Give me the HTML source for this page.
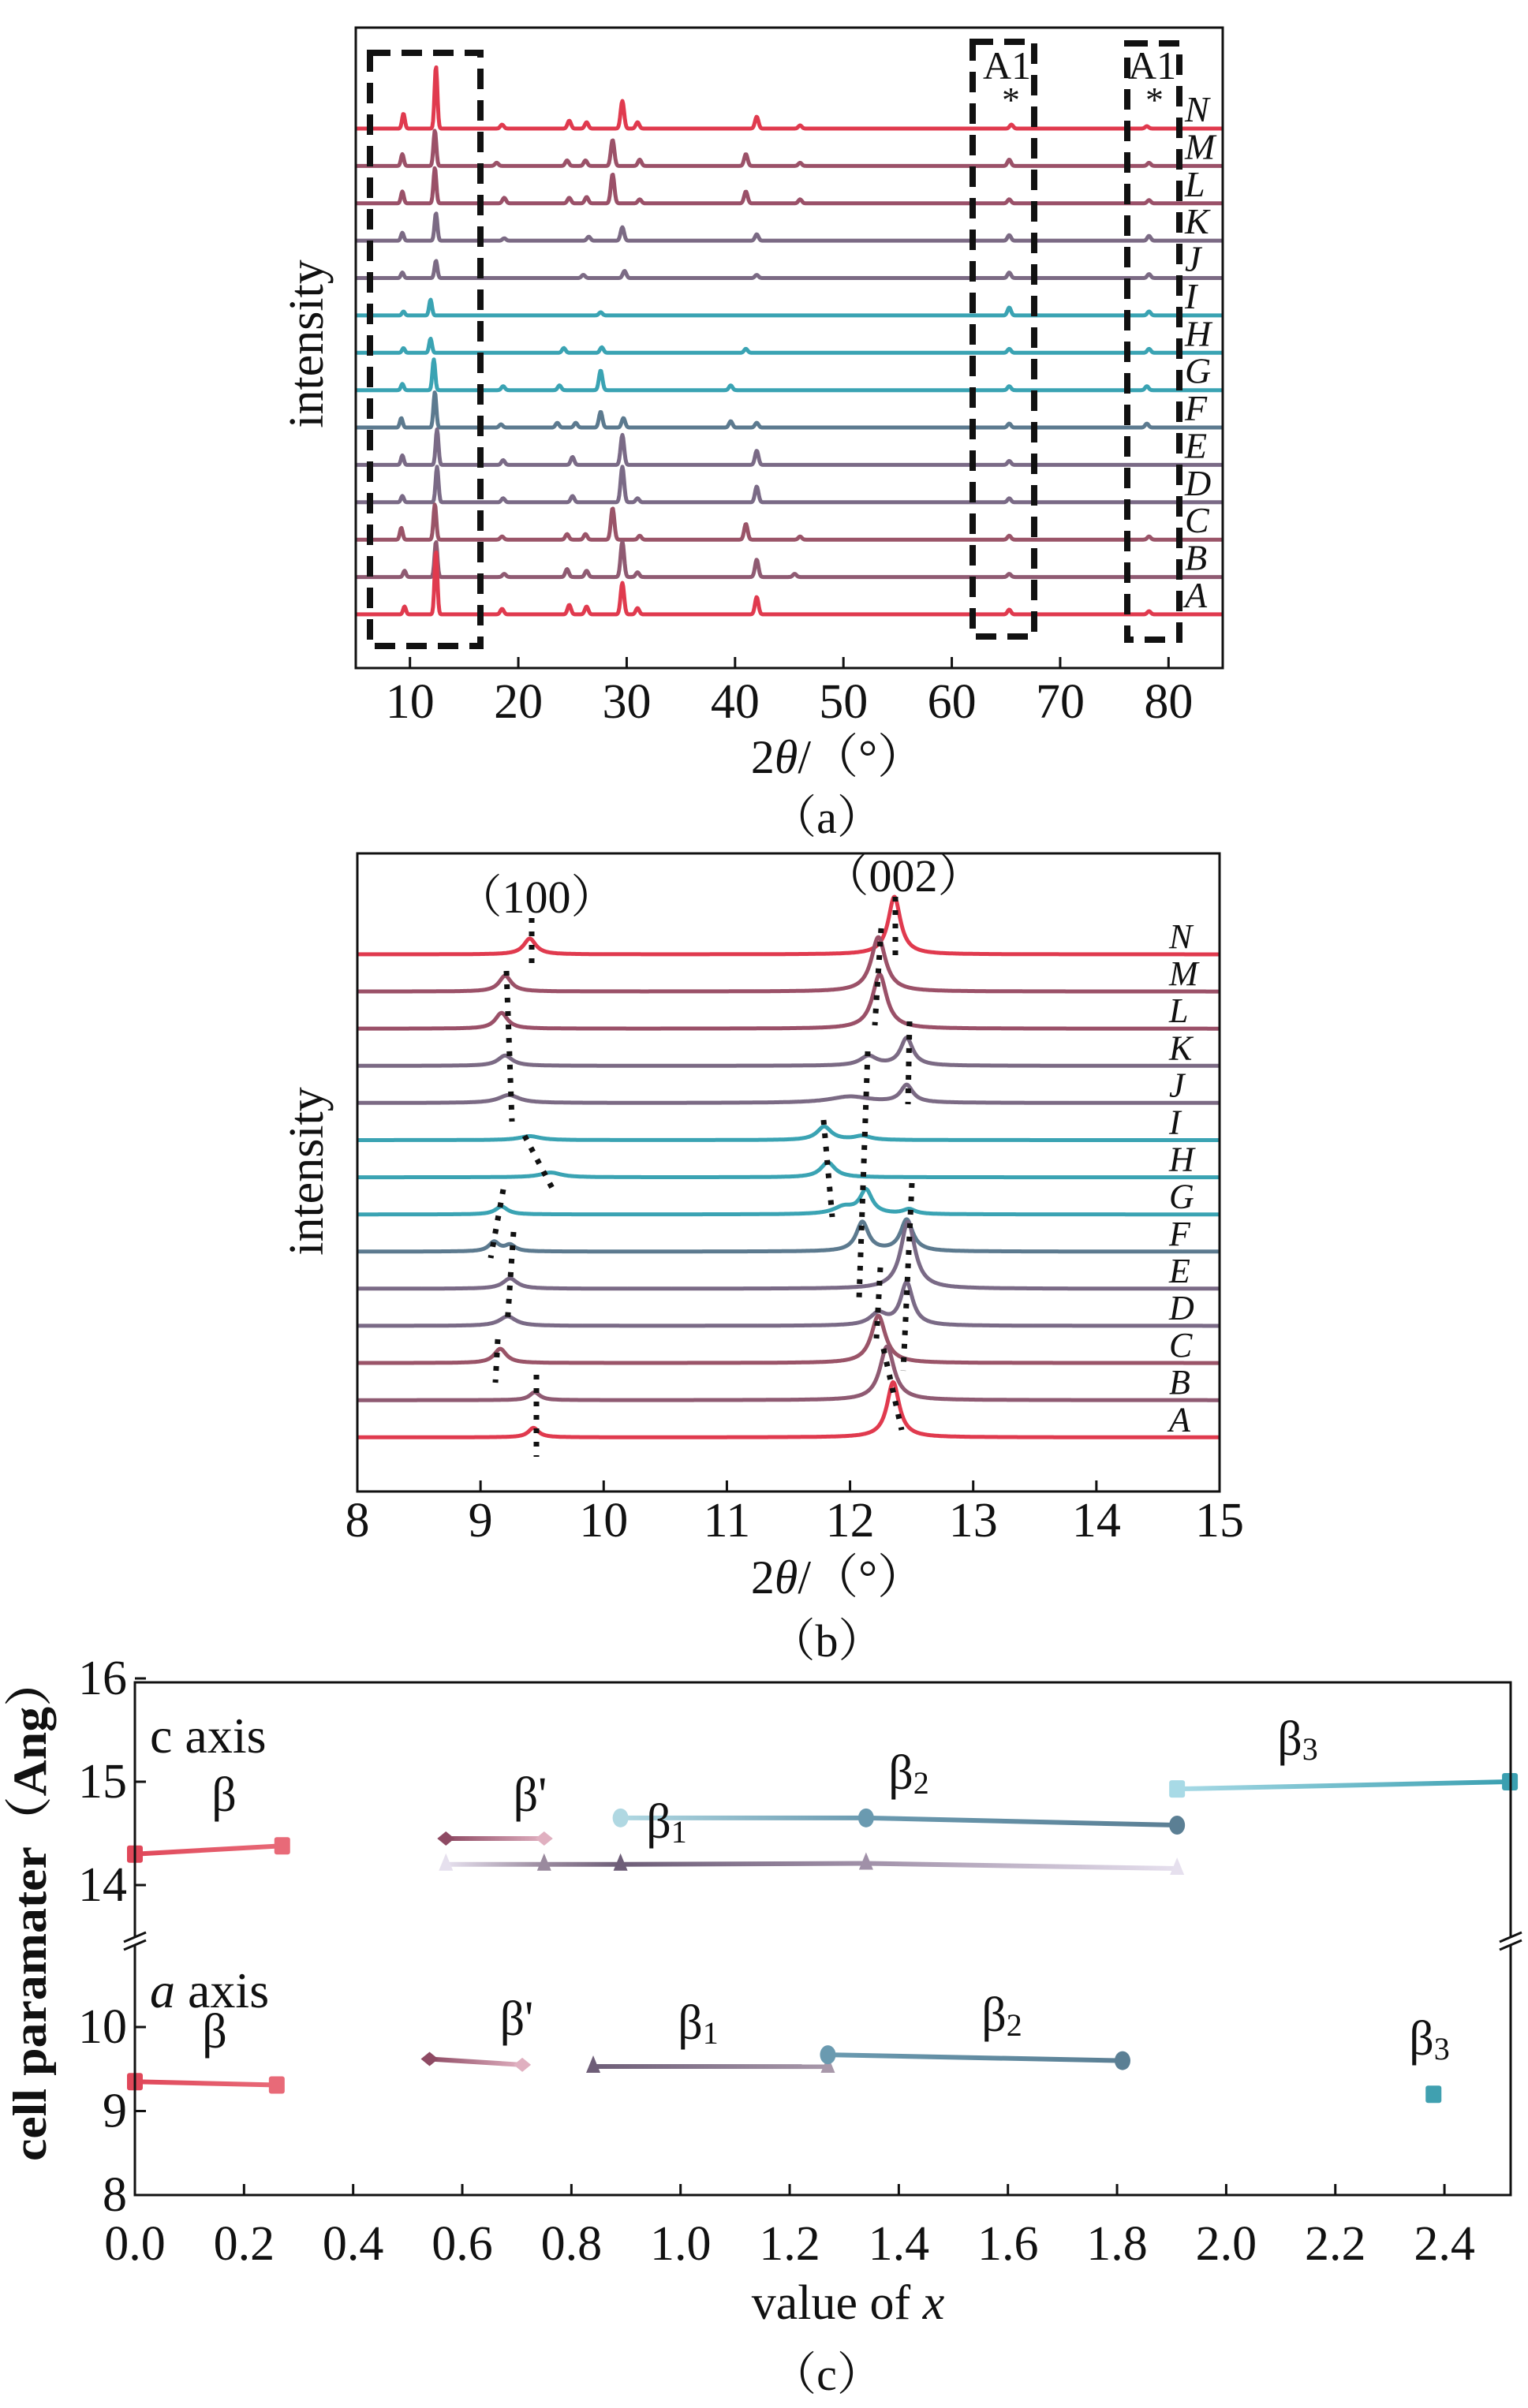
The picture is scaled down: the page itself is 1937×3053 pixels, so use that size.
<!DOCTYPE html>
<html><head><meta charset="utf-8"><title>XRD and cell parameters</title>
<style>
html,body{margin:0;padding:0;background:#fff;}
svg{display:block;font-family:"Liberation Serif","Noto Serif CJK SC",serif;}
</style></head>
<body>
<svg id="fig" width="1937" height="3053" viewBox="0 0 1937 3053" xmlns="http://www.w3.org/2000/svg">
<defs id="defs"></defs>
<g id="pa"></g>
<g id="pb"></g>
<g id="pc"></g>
</svg>
<script>
// ---------- Panel (a) data ----------
const aLabels = ["N","M","L","K","J","I","H","G","F","E","D","C","B","A"];
const aColors = ["#e03a4e","#9b5168","#9a5068","#7b6a84","#7b6a84","#3aa3b3","#3aa3b3","#3aa3b3","#5c7a8f","#7a6a86","#7a6a86","#9a5468","#8f5a72","#e03a4e"];
const aPeakPos = [
 [9.4,12.4,18.5,24.7,26.3,29.6,31,42,46,65.5,78],
 [9.3,12.3,18,24.5,26.2,28.7,31.2,41,46,65.3,78.2],
 [9.3,12.3,18.7,24.7,26.3,28.7,31.2,41,46,65.3,78.2],
 [9.3,12.4,18.7,26.5,29.6,42,65.3,78.2],
 [9.3,12.4,26,29.8,42,65.3,78.2],
 [9.4,11.9,27.6,65.3,78.2],
 [9.4,11.9,24.2,27.7,41,65.3,78.2],
 [9.3,12.2,18.6,23.8,27.6,39.6,65.3,78],
 [9.2,12.3,18.4,23.6,25.3,27.6,29.7,39.6,42,65.3,78],
 [9.3,12.5,18.6,25,29.6,42,65.3],
 [9.3,12.5,18.6,25,29.6,31,42,65.3],
 [9.2,12.3,18.5,24.5,26.2,28.7,31.2,41,46,65.3,78.2],
 [9.5,12.4,18.7,24.5,26.3,29.6,31,42,45.5,65.3],
 [9.5,12.4,18.5,24.7,26.3,29.6,31,42,65.3,78.2]
];
const aPeakH = [
 [19,79,5,10,8,35,8,15,4,5,3],
 [15,45,4,7,7,33,8,15,4,8,4],
 [15,45,7,7,8,37,5,15,5,5,4],
 [10,35,3,5,17,8,7,6],
 [7,22,4,9,4,7,5],
 [5,20,4,10,5],
 [6,18,6,7,5,5,5],
 [8,39,5,6,25,6,5,5],
 [12,45,4,6,6,20,12,8,6,5,5],
 [12,45,6,10,38,18,5],
 [8,45,5,8,45,5,20,5],
 [15,45,4,7,7,40,5,20,4,5,4],
 [8,45,4,10,8,45,6,22,4,4],
 [10,80,7,12,10,40,8,22,6,4]
];
const aTicks = [10,20,30,40,50,60,70,80];

// ---------- Panel (b) data ----------
const bPeakPos = [
 [9.4,12.36],[9.2,12.23],[9.17,12.24],[9.2,12.15,12.46],[9.23,12.0,12.46],
 [9.4,11.79,12.1],[9.57,11.82],[9.17,11.95,12.13,12.48],[9.11,9.24,12.1,12.46],
 [9.24,12.47],[9.22,12.23,12.46],[9.16,12.23],[9.44,12.3],[9.43,12.35]
];
const bPeakH = [
 [20,73],[20,69],[20,69],[13,12,35],[10,8,22],
 [5,17,5],[6,19],[10,9,30,6],[12,8,37,40],
 [13,85],[12,15,54],[18,60],[10,68],[12,70]
];
const bPeakW = [
 [0.06,0.06],[0.06,0.07],[0.06,0.07],[0.07,0.08,0.06],[0.1,0.2,0.06],
 [0.1,0.07,0.08],[0.1,0.07],[0.06,0.1,0.06,0.06],[0.05,0.05,0.06,0.06],
 [0.07,0.07],[0.08,0.08,0.06],[0.06,0.07],[0.05,0.07],[0.05,0.06]
];
const bTicks = [8,9,10,11,12,13,14,15];

// ---------- Panel (c) data ----------
const cTicksX = [0.0,0.2,0.4,0.6,0.8,1.0,1.2,1.4,1.6,1.8,2.0,2.2,2.4];
const cTicksUpper = [14,15,16];
const cTicksLower = [8,9,10];
const cBetaX = [0.0,0.27];        const cBetaY = [14.30,14.38];
const cBetaPX = [0.57,0.75];      const cBetaPY = [14.45,14.45];
const cBeta1X = [0.57,0.75,0.89,1.34,1.91]; const cBeta1Y = [14.20,14.20,14.20,14.21,14.16];
const cBeta2X = [0.89,1.34,1.91]; const cBeta2Y = [14.65,14.65,14.58];
const cBeta3X = [1.91,2.52];      const cBeta3Y = [14.93,15.00];
const aBetaX = [0.0,0.26];        const aBetaY = [9.35,9.31];
const aBetaPX = [0.54,0.71];      const aBetaPY = [9.62,9.55];
const aBeta1X = [0.84,1.27];      const aBeta1Y = [9.53,9.53];
const aBeta2X = [1.27,1.81];      const aBeta2Y = [9.67,9.60];
const aBeta3X = [2.38];           const aBeta3Y = [9.20];

const NS = "http://www.w3.org/2000/svg";
function mk(tag, attrs, parent){
  const e = document.createElementNS(NS, tag);
  for (const k in attrs) e.setAttribute(k, attrs[k]);
  parent.appendChild(e);
  return e;
}
function txt(parent, s, attrs){
  const t = mk("text", attrs, parent);
  t.textContent = s;
  return t;
}
const defs = document.getElementById("defs");

// ===== Panel A =====
(function(){
  const g = document.getElementById("pa");
  const L=451,R=1550,T=35,B=847;
  const xa = d => L + (d-5)*(R-L)/80;
  const base0 = 163, step = 47.38;
  for (let s=0; s<aLabels.length; s++){
    const y0 = base0 + s*step;
    let dstr = "";
    for (let px=L; px<=R; px+=1){
      const d = 5 + (px-L)*80/(R-L);
      let v = 0;
      for (let k=0;k<aPeakPos[s].length;k++){
        const w = aPeakPos[s][k] < 14 ? 0.13 : 0.16;
        const u = (d-aPeakPos[s][k])/w;
        v += aPeakH[s][k]*Math.exp(-u*u/2);
      }
      dstr += (px===L?"M":"L") + px + " " + (y0 - v).toFixed(1);
    }
    const p = mk("path", {d:dstr, fill:"none", stroke:aColors[s], "stroke-width":5, "stroke-linejoin":"round"}, g);
    
    
    const lab = txt(g, aLabels[s], {x:1502, y:y0-9, "font-size":46, "font-style":"italic", fill:"#111"});
    
    
  }
  const boxes = [[469,67,609,819],[1233,53,1311,807],[1429,55,1495,811]];
  boxes.forEach((b,i)=>{
    const r = mk("rect",{x:b[0],y:b[1],width:b[2]-b[0],height:b[3]-b[1],fill:"none",stroke:"#111","stroke-width":8,"stroke-dasharray":"26 14"},g);
    
    
  });
  [[1246,1270],[1430,1452]].forEach((p,i)=>{
    const t = txt(g,"A1",{x:p[0],y:100,"font-size":50,fill:"#111"});
    
    
    const st = txt(g,"*",{x:p[1],y:142,"font-size":46,fill:"#111"});
    
    
  });
  const fr = mk("rect",{x:L,y:T,width:R-L,height:B-T,fill:"none",stroke:"#111","stroke-width":3},g);
  
  
  aTicks.forEach(t=>{
    const x = xa(t);
    const tk = mk("line",{x1:x,y1:B,x2:x,y2:B-14,stroke:"#111","stroke-width":3},g);
    
    
    const tl = txt(g,String(t),{x:x,y:910,"font-size":62,"text-anchor":"middle",fill:"#111"});
    
    
  });
})();

// ===== Panel B =====
(function(){
  const g = document.getElementById("pb");
  const L=453,R=1546,T=1082,B=1891;
  const xb = d => L + (d-8)*(R-L)/7;
  const base0 = 1210, step = 47.1;
  for (let s=0;s<aLabels.length;s++){
    const y0 = base0 + s*step;
    let dstr="";
    for (let px=L; px<=R; px+=1){
      const d = 8 + (px-L)*7/(R-L);
      let v=0;
      for (let k=0;k<bPeakPos[s].length;k++){
        const u=(d-bPeakPos[s][k])/bPeakW[s][k];
        v += bPeakH[s][k]/(1+u*u);
      }
      dstr += (px===L?"M":"L")+px+" "+(y0-v).toFixed(1);
    }
    const p = mk("path",{d:dstr,fill:"none",stroke:aColors[s],"stroke-width":5,"stroke-linejoin":"round"},g);
    
    
    const lab = txt(g,aLabels[s],{x:1482,y:y0-8,"font-size":44,"font-style":"italic",fill:"#111"});
    
    
  }
  const guides = [
    [674,1164,674,1221],[642,1231,649,1422],[665,1440,703,1512],[638,1508,622,1595],
    [651,1562,643,1680],[631,1698,628,1753],[680,1743,680,1847],
    [1135,1137,1135,1213],[1117,1177,1109,1300],[1153,1295,1151,1400],[1100,1333,1089,1647],
    [1044,1420,1055,1543],[1156,1500,1145,1738],[1116,1607,1111,1697],[1120,1710,1143,1813]
  ];
  guides.forEach(s=>{
    const l = mk("line",{x1:s[0],y1:s[1],x2:s[2],y2:s[3],stroke:"#111","stroke-width":7,"stroke-dasharray":"6 11"},g);
    
    
  });
  const p1 = txt(g,"（100）",{x:680,y:1157,"font-size":58,"text-anchor":"middle",fill:"#111"});
  
  
  const p2 = txt(g,"（002）",{x:1145,y:1130,"font-size":58,"text-anchor":"middle",fill:"#111"});
  
  
  const fr = mk("rect",{x:L,y:T,width:R-L,height:B-T,fill:"none",stroke:"#111","stroke-width":3},g);
  
  
  bTicks.forEach(t=>{
    const x = xb(t);
    const tk = mk("line",{x1:x,y1:B,x2:x,y2:B-14,stroke:"#111","stroke-width":3},g);
    
    
    const tl = txt(g,String(t),{x:x,y:1948,"font-size":62,"text-anchor":"middle",fill:"#111"});
    
    
  });
})();

// shared titles
(function(){
  const g = document.getElementById("fig");
  const items = [
    ["intensity",389,436,"y-axis-title-a"],
    ["intensity",389,1485,"y-axis-title-b"],
  ];
  items.forEach(it=>{
    const t = txt(g,it[0],{x:it[1],y:it[2],"font-size":62,"text-anchor":"middle",fill:"#111",transform:"rotate(-90 "+it[1]+" "+it[2]+")",dy:"20"});
    
    
  });
  [[980,"x-axis-title-a"],[2020,"x-axis-title-b"]].forEach(a=>{
    const t = mk("text",{x:1062,y:a[0],"font-size":60,"text-anchor":"middle",fill:"#111"},g);
    t.innerHTML = '2<tspan font-style="italic">θ</tspan>/（°）';
    
    
  });
  [["（a）",1048,1056,"caption-a"],["（b）",1048,2100,"caption-b"],["（c）",1048,3030,"caption-c"]].forEach(c=>{
    const t = txt(g,c[0],{x:c[1],y:c[2],"font-size":58,"text-anchor":"middle",fill:"#111"});
    
    
  });
})();

// ===== Panel C =====
(function(){
  const g = document.getElementById("pc");
  const L=171,R=1915,T=2133,B=2783;
  const xc = v => L + v*691.7;
  const yU = v => 2259 - (v-15)*131;
  const yL = v => 2570 - (v-10)*106.5;
  let gid = 0;
  function series(xs, ys, yf, cols, shape, name){
    for (let i=0;i<xs.length-1;i++){
      const id = "grad"+(gid++);
      const lg = mk("linearGradient",{id:id,gradientUnits:"userSpaceOnUse",x1:xc(xs[i]),y1:0,x2:xc(xs[i+1]),y2:0},defs);
      mk("stop",{offset:"0","stop-color":cols[i]},lg);
      mk("stop",{offset:"1","stop-color":cols[i+1]},lg);
      const ln = mk("line",{x1:xc(xs[i]),y1:yf(ys[i]),x2:xc(xs[i+1]),y2:yf(ys[i+1])+0.01,stroke:"url(#"+id+")","stroke-width":6},g);
      
      
    }
    for (let i=0;i<xs.length;i++){
      const x = xc(xs[i]), y = yf(ys[i]);
      let m;
      if (shape==="square") m = mk("rect",{x:x-10,y:y-11,width:20,height:22,rx:3,fill:cols[i]},g);
      else if (shape==="circle") m = mk("ellipse",{cx:x,cy:y,rx:10,ry:12,fill:cols[i]},g);
      else if (shape==="diamond") m = mk("path",{d:"M"+(x-11)+" "+y+"L"+x+" "+(y-9)+"L"+(x+11)+" "+y+"L"+x+" "+(y+9)+"Z",fill:cols[i]},g);
      else m = mk("path",{d:"M"+x+" "+(y-14)+"L"+(x+9)+" "+(y+8)+"L"+(x-9)+" "+(y+8)+"Z",fill:cols[i]},g);
      
      
    }
  }
  series(cBetaX,cBetaY,yU,["#e0485a","#e86a78"],"square","c-beta");
  series(cBetaPX,cBetaPY,yU,["#8e4a63","#e0b0c0"],"diamond","c-beta-prime");
  series(cBeta1X,cBeta1Y,yU,["#e6e0ee","#9a8a9e","#6e5e78","#a090a8","#e6e0ee"],"triangle","c-beta1");
  series(cBeta2X,cBeta2Y,yU,["#b0d8e2","#6a9ab0","#5b7f94"],"circle","c-beta2");
  series(cBeta3X,cBeta3Y,yU,["#a8dae6","#3a9fb0"],"square","c-beta3");
  series(aBetaX,aBetaY,yL,["#e0485a","#e86a78"],"square","a-beta");
  series(aBetaPX,aBetaPY,yL,["#8e4a63","#e0b0c0"],"diamond","a-beta-prime");
  series(aBeta1X,aBeta1Y,yL,["#6e5e78","#a898aa"],"triangle","a-beta1");
  series(aBeta2X,aBeta2Y,yL,["#6a9ab0","#5b7f94"],"circle","a-beta2");
  series(aBeta3X,aBeta3Y,yL,["#40a0b0"],"square","a-beta3");

  const fr = mk("path",{d:"M"+L+" "+T+"H"+R+"V"+B+"H"+L+"Z",fill:"none",stroke:"#111","stroke-width":3},g);
  
  
  [L,R].forEach((x,i)=>{
    const w = mk("rect",{x:x-8,y:2455,width:16,height:12,fill:"#fff"},g);
    
    
    const b1 = mk("line",{x1:x-14,y1:2462,x2:x+14,y2:2450,stroke:"#111","stroke-width":3},g);
    
    
    const b2 = mk("line",{x1:x-14,y1:2472,x2:x+14,y2:2460,stroke:"#111","stroke-width":3},g);
    
    
  });
  cTicksX.forEach(t=>{
    const x = xc(t);
    const tk = mk("line",{x1:x,y1:B,x2:x,y2:B-14,stroke:"#111","stroke-width":3},g);
    
    
    const tl = txt(g,t.toFixed(1),{x:x,y:2865,"font-size":62,"text-anchor":"middle",fill:"#111"});
    
    
  });
  cTicksUpper.forEach(t=>{
    const y = yU(t);
    const tk = mk("line",{x1:L,y1:y,x2:L+14,y2:y,stroke:"#111","stroke-width":3},g);
    
    
    const tl = txt(g,String(t),{x:L-10,y:y+20,"font-size":62,"text-anchor":"end",fill:"#111"});
    
    
  });
  cTicksLower.forEach(t=>{
    const y = yL(t);
    const tk = mk("line",{x1:L,y1:y,x2:L+14,y2:y,stroke:"#111","stroke-width":3},g);
    
    
    const tl = txt(g,String(t),{x:L-10,y:y+20,"font-size":62,"text-anchor":"end",fill:"#111"});
    
    
  });
  const ca = txt(g,"c axis",{x:190,y:2222,"font-size":64,fill:"#111"});
  
  
  const aa = mk("text",{x:190,y:2545,"font-size":64,fill:"#111"},g);
  aa.innerHTML = '<tspan font-style="italic">a</tspan> axis';
  
  
  const bl = [
    ["β","",284,2296],["β'","",672,2296],["β","1",845,2330],["β","2",1152,2268],["β","3",1645,2225],
    ["β","",272,2596],["β'","",655,2580],["β","1",885,2585],["β","2",1270,2575],["β","3",1812,2605]
  ];
  bl.forEach(b=>{
    const t = mk("text",{x:b[2],y:b[3],"font-size":62,"text-anchor":"middle",fill:"#111"},g);
    t.textContent = b[0];
    if (b[1]){ const s = mk("tspan",{"font-size":40,dy:"6"},t); s.textContent = b[1]; }
    
    
  });
  const yt = txt(g,"cell paramater（Ang）",{x:0,y:0,"font-size":60,"font-weight":"bold","text-anchor":"middle",fill:"#111",textLength:640,lengthAdjust:"spacingAndGlyphs",transform:"translate(58 2420) rotate(-90)"});
  
  
  const xt = mk("text",{x:1075,y:2940,"font-size":62,"text-anchor":"middle",fill:"#111"},g);
  xt.innerHTML = 'value of <tspan font-style="italic">x</tspan>';
  
  
})();
</script>
</body></html>
